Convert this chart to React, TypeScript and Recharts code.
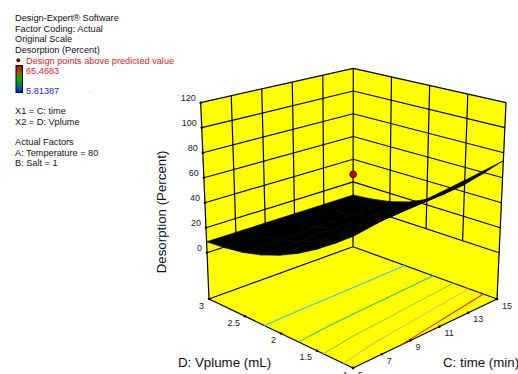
import React from "react"
import { ScatterChart, Scatter, XAxis, YAxis } from "recharts"

const W = 518
const H = 374
const FONT = "'Liberation Sans', Arial, sans-serif"

// axis ticks
const timeTicks = [5, 7, 9, 11, 13, 15]
const volumeTicks = [1, 1.5, 2, 2.5, 3]
const desorptionTicks = [0, 20, 40, 60, 80, 100, 120]

// response surface (desorption % per volume, one row per time)
const timeGrid = [5, 7.5, 10, 12.5, 15]
const volumeGrid = [1, 1.25, 1.5, 1.75, 2, 2.25, 2.5, 2.75, 3]
const desorptionT5 = [57.4, 47.2, 37.6, 29.2, 22.2, 16.6, 12.6, 10.2, 8.8]
const desorptionT7_5 = [62, 50.7, 40, 30.6, 22.9, 16.9, 12.7, 10.2, 8.7]
const desorptionT10 = [65.2, 53.2, 41.6, 31.6, 23.4, 17.1, 12.8, 10.2, 8.7]
const desorptionT12_5 = [69, 56.1, 43.7, 32.8, 23.9, 17.3, 12.9, 10.2, 8.6]
const desorptionT15 = [73.6, 59.6, 46, 34.2, 24.6, 17.6, 13, 10.2, 8.5]
const surfaceRows = [desorptionT5, desorptionT7_5, desorptionT10, desorptionT12_5, desorptionT15]

const designPoints = [{ time: 10, volume: 2, desorption: 65.4683 }]

const contourLevels = [17, 29, 41, 52, 63]
const contourColors = ["#3cc3ee", "#2ecb6e", "#8ed52a", "#f7b26a", "#f2241c"]

// box geometry (screen corners of the 3D frame)
const Z_FLOOR = -37
const Z_TOP = 120
const FLOOR = { front: [353, 368], right: [497, 299], left: [209, 299], back: [353, 246.7] }
const TOP = { front: [353, 149.3], right: [506, 102.7], left: [200.7, 102.7], back: [353.3, 68.3] }

const bil = (c: any, u: number, v: number, k: number) =>
  c.front[k] * (1 - u) * (1 - v) + c.right[k] * u * (1 - v) + c.left[k] * (1 - u) * v + c.back[k] * u * v

const project = (time: number, volume: number, z: number) => {
  const u = (time - timeTicks[0]) / (timeTicks[timeTicks.length - 1] - timeTicks[0])
  const v = (volume - volumeTicks[0]) / (volumeTicks[volumeTicks.length - 1] - volumeTicks[0])
  const w = (z - Z_FLOOR) / (Z_TOP - Z_FLOOR)
  return {
    px: bil(FLOOR, u, v, 0) * (1 - w) + bil(TOP, u, v, 0) * w,
    py: bil(FLOOR, u, v, 1) * (1 - w) + bil(TOP, u, v, 1) * w,
  }
}

const tMin = timeTicks[0]
const tMax = timeTicks[timeTicks.length - 1]
const vMin = volumeTicks[0]
const vMax = volumeTicks[volumeTicks.length - 1]

const poly = (pts: { px: number; py: number }[], fill: string, stroke?: string) => ({
  px: pts[0].px,
  py: pts[0].py,
  verts: pts,
  fill,
  stroke: stroke ?? fill,
})

const planes = [
  poly([project(tMin, vMin, Z_FLOOR), project(tMax, vMin, Z_FLOOR), project(tMax, vMax, Z_FLOOR), project(tMin, vMax, Z_FLOOR)], "#ffff00"),
  poly([project(tMin, vMax, Z_FLOOR), project(tMax, vMax, Z_FLOOR), project(tMax, vMax, Z_TOP), project(tMin, vMax, Z_TOP)], "#ffff00"),
  poly([project(tMax, vMax, Z_FLOOR), project(tMax, vMin, Z_FLOOR), project(tMax, vMin, Z_TOP), project(tMax, vMax, Z_TOP)], "#ffff00"),
]

// black frame / grid segments
const segments: { px: number; py: number }[][] = []
desorptionTicks.forEach((z) => {
  segments.push([project(tMin, vMax, z), project(tMax, vMax, z)])
  segments.push([project(tMax, vMax, z), project(tMax, vMin, z)])
})
timeTicks.slice(1, -1).forEach((t) => segments.push([project(t, vMax, 0), project(t, vMax, Z_TOP)]))
volumeTicks.slice(1, -1).forEach((v) => segments.push([project(tMax, v, 0), project(tMax, v, Z_TOP)]))
segments.push([project(tMin, vMax, Z_FLOOR), project(tMin, vMax, Z_TOP)])
segments.push([project(tMax, vMax, Z_FLOOR), project(tMax, vMax, Z_TOP)])
segments.push([project(tMax, vMin, Z_FLOOR), project(tMax, vMin, Z_TOP)])
segments.push([project(tMin, vMax, Z_FLOOR), project(tMax, vMax, Z_FLOOR)])
segments.push([project(tMax, vMax, Z_FLOOR), project(tMax, vMin, Z_FLOOR)])
segments.push([project(tMin, vMin, Z_FLOOR), project(tMin, vMax, Z_FLOOR)])
segments.push([project(tMin, vMin, Z_FLOOR), project(tMax, vMin, Z_FLOOR)])

// contour lines on the floor (levels cross each time column along volume)
const crossing = (a: number, b: number, level: number) =>
  (a - level) * (b - level) <= 0 && a !== b ? (level - a) / (b - a) : null

const contourLine = (level: number) => {
  const pts: { px: number; py: number }[] = []
  const hitAt = (i: number) => {
    const col = surfaceRows[i]
    for (let j = 0; j < volumeGrid.length - 1; j++) {
      const f = crossing(col[j], col[j + 1], level)
      if (f !== null) return volumeGrid[j] + f * (volumeGrid[j + 1] - volumeGrid[j])
    }
    return null
  }
  for (let i = 0; i < timeGrid.length; i++) {
    const hit = hitAt(i)
    if (i > 0) {
      const prev = hitAt(i - 1)
      if ((prev === null) !== (hit === null)) {
        const f = crossing(surfaceRows[i - 1][0], surfaceRows[i][0], level)
        if (f !== null) pts.push(project(timeGrid[i - 1] + f * (timeGrid[i] - timeGrid[i - 1]), volumeGrid[0], Z_FLOOR))
      }
    }
    if (hit !== null) pts.push(project(timeGrid[i], hit, Z_FLOOR))
  }
  return pts
}
const contours = contourLevels.map((level, i) => ({ color: contourColors[i], pts: contourLine(level) }))

// surface quads
const surfaceQuads: any[] = []
for (let i = 0; i < timeGrid.length - 1; i++) {
  for (let j = 0; j < volumeGrid.length - 1; j++) {
    surfaceQuads.push(
      poly(
        [
          project(timeGrid[i], volumeGrid[j], surfaceRows[i][j]),
          project(timeGrid[i + 1], volumeGrid[j], surfaceRows[i + 1][j]),
          project(timeGrid[i + 1], volumeGrid[j + 1], surfaceRows[i + 1][j + 1]),
          project(timeGrid[i], volumeGrid[j + 1], surfaceRows[i][j + 1]),
        ],
        "#000000"
      )
    )
  }
}

const tickDots = [
  ...desorptionTicks.map((z) => project(tMin, vMax, z)),
  ...volumeTicks.map((v) => project(tMin, v, Z_FLOOR)),
  ...timeTicks.map((t) => project(t, vMin, Z_FLOOR)),
]

const tickLabels = [
  ...desorptionTicks.map((z) => ({ ...project(tMin, vMax, z), text: String(z), dx: -5, dy: -1.5, anchor: "end" })),
  ...volumeTicks.map((v) => ({ ...project(tMin, v, Z_FLOOR), text: String(v), dx: -5, dy: 9.5, anchor: "end" })),
  ...timeTicks.map((t) => ({ ...project(t, vMin, Z_FLOOR), text: String(t), dx: 5, dy: 9.5, anchor: "start" })),
]

const points = designPoints.map((d) => project(d.time, d.volume, d.desorption))

const polyShape = (props: any) => {
  const { cx, cy, payload } = props
  const pts = payload.verts.map((p: any) => `${cx + p.px - payload.px},${cy + p.py - payload.py}`).join(" ")
  return <polygon points={pts} fill={payload.fill} stroke={payload.stroke} strokeWidth={0.6} />
}

const noShape = () => <g />

const dotShape = (props: any) => <circle cx={props.cx} cy={props.cy} r={1.3} fill="#000" />

const labelShape = (props: any) => {
  const { cx, cy, payload } = props
  return (
    <text x={cx + payload.dx} y={cy + payload.dy} textAnchor={payload.anchor} fontSize={9} fontFamily={FONT} fill="#222">
      {payload.text}
    </text>
  )
}

const pointShape = (props: any) => (
  <circle cx={props.cx} cy={props.cy} r={3.4} fill="#c80000" stroke="#3a0000" strokeWidth={0.8} />
)

const legendLines = [
  { text: "Design-Expert® Software", y: 20.5, color: "#111" },
  { text: "Factor Coding: Actual", y: 31.5, color: "#111" },
  { text: "Original Scale", y: 42, color: "#111" },
  { text: "Desorption (Percent)", y: 52.5, color: "#111" },
  { text: "X1 = C: time", y: 114, color: "#111" },
  { text: "X2 = D: Vplume", y: 125, color: "#111" },
  { text: "Actual Factors", y: 145.3, color: "#111" },
  { text: "A: Temperature = 80", y: 156, color: "#111" },
  { text: "B: Salt = 1", y: 166.3, color: "#111" },
]

export default function App() {
  return (
    <div style={{ position: "relative", width: W, height: H, background: "#fff" }}>
      <style>{"body{margin:0}"}</style>
      <ScatterChart width={W} height={H} margin={{ top: 0, right: 0, bottom: 0, left: 0 }}>
        <XAxis type="number" dataKey="px" domain={[0, W]} allowDataOverflow hide />
        <YAxis type="number" dataKey="py" domain={[0, H]} allowDataOverflow reversed hide />
        <Scatter data={planes} shape={polyShape} isAnimationActive={false} />
        {segments.map((s, i) => (
          <Scatter key={`seg-${i}`} data={s} fill="#000" line={{ stroke: "#000", strokeWidth: 1.2 }} shape={noShape} isAnimationActive={false} />
        ))}
        {contours.map((c, i) => (
          <Scatter key={`ct-${i}`} data={c.pts} fill={c.color} line={{ stroke: c.color, strokeWidth: 1.1 }} shape={noShape} isAnimationActive={false} />
        ))}
        <Scatter data={tickDots} shape={dotShape} isAnimationActive={false} />
        <Scatter data={tickLabels} shape={labelShape} isAnimationActive={false} />
        <Scatter data={surfaceQuads} shape={polyShape} isAnimationActive={false} />
        <Scatter data={points} shape={pointShape} isAnimationActive={false} />
      </ScatterChart>
      <svg width={W} height={H} style={{ position: "absolute", left: 0, top: 0, pointerEvents: "none" }}>
        <defs>
          <linearGradient id="bar" x1="0" y1="0" x2="0" y2="1">
            <stop offset="0" stopColor="#c00000" />
            <stop offset="0.3" stopColor="#8a6a00" />
            <stop offset="0.5" stopColor="#00b000" />
            <stop offset="0.75" stopColor="#007a70" />
            <stop offset="1" stopColor="#0010ff" />
          </linearGradient>
        </defs>
        {legendLines.map((l) => (
          <text key={l.text} x={15} y={l.y} fontSize={9.2} fontFamily={FONT} fill={l.color}>
            {l.text}
          </text>
        ))}
        <circle cx={18.3} cy={60.3} r={2} fill="#7a0000" />
        <text x={26} y={63.5} fontSize={9.2} fontFamily={FONT} fill="#e0202a">
          Design points above predicted value
        </text>
        <rect x={16} y={65.5} width={6.5} height={27} fill="url(#bar)" stroke="#000" strokeWidth={1} />
        <text x={26} y={73.6} fontSize={9.2} fontFamily={FONT} fill="#f02030">
          65.4683
        </text>
        <text x={26} y={94} fontSize={9.2} fontFamily={FONT} fill="#2030ff">
          5.81387
        </text>
        <text x={89} y={93} fontSize={8} fontFamily={FONT} fill="#777">
          .
        </text>
        <text x={177} y={96} fontSize={8} fontFamily={FONT} fill="#777">
          .
        </text>
        <text x={166} y={212} fontSize={13.3} fontFamily={FONT} fill="#111" textAnchor="middle" transform="rotate(-90 166 212)">
          Desorption (Percent)
        </text>
        <text x={178} y={366.5} fontSize={13.3} fontFamily={FONT} fill="#111">
          D: Vplume (mL)
        </text>
        <text x={443} y={366.5} fontSize={13.3} fontFamily={FONT} fill="#111">
          C: time (min)
        </text>
      </svg>
    </div>
  )
}
